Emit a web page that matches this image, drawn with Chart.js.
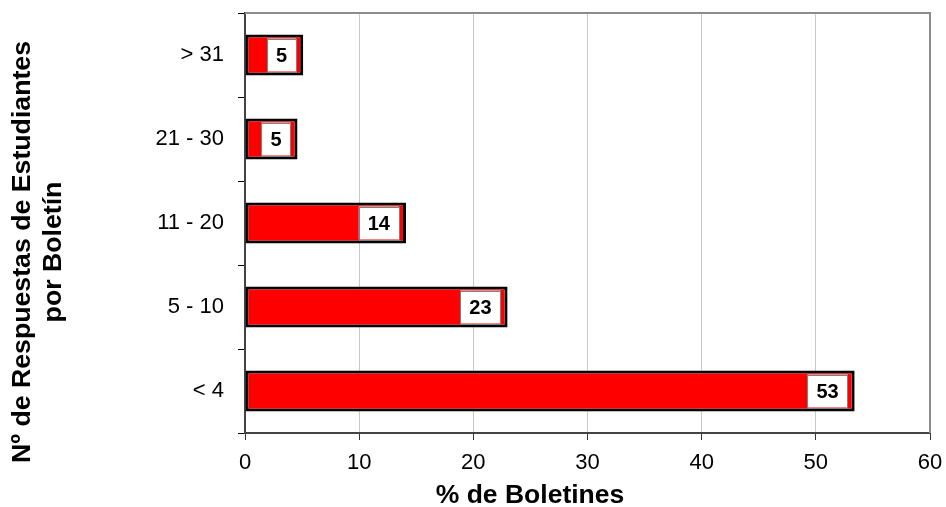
<!DOCTYPE html>
<html>
<head>
<meta charset="utf-8">
<script src="https://cdn.jsdelivr.net/npm/chart.js@4.4.1/dist/chart.umd.min.js"></script>
<style>
html,body{margin:0;padding:0;background:#fff;}
#wrap{width:946px;height:507px;position:relative;}
</style>
</head>
<body>
<div id="wrap"><canvas id="c"></canvas></div>
<script>
const categories = ['> 31', '21 - 30', '11 - 20', '5 - 10', '< 4'];
const values = [5.1, 4.6, 14.1, 23.0, 53.4];
const dataLabels = ['5', '5', '14', '23', '53'];
const xTicks = [0, 10, 20, 30, 40, 50, 60];
const yTitleLines = ['Nº de Respuestas de Estudiantes', 'por Boletín'];
const xTitle = '% de Boletines';

const FONT = "'Liberation Sans', Arial, sans-serif";

const framePlugin = {
  id: 'frame',
  beforeDatasetsDraw(chart) {
    const {ctx, chartArea: a} = chart;
    ctx.save();
    ctx.strokeStyle = '#8c8c8c';
    ctx.lineWidth = 2;
    ctx.beginPath();
    ctx.moveTo(a.left, a.top);
    ctx.lineTo(a.right, a.top);
    ctx.lineTo(a.right, a.bottom);
    ctx.stroke();
    ctx.restore();
  },
  afterDatasetsDraw(chart) {
    const {ctx} = chart;
    const meta = chart.getDatasetMeta(0);
    ctx.save();
    ctx.font = 'bold 20px ' + FONT;
    ctx.textAlign = 'center';
    ctx.textBaseline = 'middle';
    meta.data.forEach((bar, i) => {
      const txt = dataLabels[i];
      const tw = ctx.measureText(txt).width;
      const w = tw + 18;
      const h = 33;
      const right = bar.x - 7;
      const x0 = right - w;
      const y0 = bar.y - h / 2;
      ctx.fillStyle = '#ffffff';
      ctx.fillRect(x0, y0, w, h);
      ctx.strokeStyle = '#808080';
      ctx.lineWidth = 1;
      ctx.strokeRect(Math.round(x0) + 0.5, Math.round(y0) + 0.5, Math.round(w), Math.round(h));
      ctx.fillStyle = '#000';
      ctx.fillText(txt, x0 + w / 2, bar.y + 1);
    });
    ctx.restore();
  },
  afterDraw(chart) {
    const {ctx} = chart;
    ctx.save();
    ctx.fillStyle = '#000';
    ctx.font = 'bold 26.7px ' + FONT;
    ctx.textAlign = 'center';
    ctx.textBaseline = 'middle';
    ctx.save();
    ctx.translate(23, 252);
    ctx.rotate(-Math.PI / 2);
    ctx.fillText(yTitleLines[0], 0, 0);
    ctx.restore();
    ctx.save();
    ctx.translate(54, 252);
    ctx.rotate(-Math.PI / 2);
    ctx.fillText(yTitleLines[1], 0, 0);
    ctx.restore();
    ctx.font = 'bold 26.5px ' + FONT;
    ctx.fillText(xTitle, 530, 496);
    ctx.restore();
  }
};

new Chart(document.getElementById('c'), {
  type: 'bar',
  data: {
    labels: categories,
    datasets: [{
      data: values,
      backgroundColor: '#ff0000',
      borderColor: '#000000',
      borderWidth: 3,
      borderSkipped: false,
      categoryPercentage: 1.0,
      barPercentage: 0.49
    }]
  },
  options: {
    indexAxis: 'y',
    responsive: true,
    maintainAspectRatio: false,
    animation: false,
    layout: {padding: {top: 13, right: 16, left: 0, bottom: 0}},
    plugins: {legend: {display: false}, tooltip: {enabled: false}, title: {display: false}},
    scales: {
      x: {
        type: 'linear',
        min: 0,
        max: 60,
        afterBuildTicks(scale) { scale.ticks = xTicks.map(v => ({value: v})); },
        afterFit(scale) {
          scale.height = 74;
          scale.paddingLeft = 0; scale.paddingRight = 0;
          scale.paddingTop = 0; scale.paddingBottom = 0;
        },
        grid: {
          color: (c) => (c.tick && (c.tick.value === 0 || c.tick.value === 60)) ? 'rgba(0,0,0,0)' : '#c8c8c8',
          lineWidth: 1,
          tickColor: '#333',
          tickLength: 7,
          drawTicks: true
        },
        border: {display: true, color: '#444', width: 2},
        ticks: {color: '#000', font: {family: FONT, size: 22}, padding: 10, maxRotation: 0}
      },
      y: {
        type: 'category',
        offset: true,
        afterFit(scale) {
          scale.width = 245;
          scale.paddingLeft = 0; scale.paddingRight = 0;
          scale.paddingTop = 0; scale.paddingBottom = 0;
        },
        grid: {
          offset: true,
          drawOnChartArea: false,
          drawTicks: true,
          tickLength: 7,
          color: '#000',
          tickColor: '#000',
          lineWidth: 1
        },
        border: {display: true, color: '#444', width: 2},
        ticks: {color: '#000', font: {family: FONT, size: 22}, padding: 14}
      }
    }
  },
  plugins: [framePlugin]
});
</script>
</body>
</html>
